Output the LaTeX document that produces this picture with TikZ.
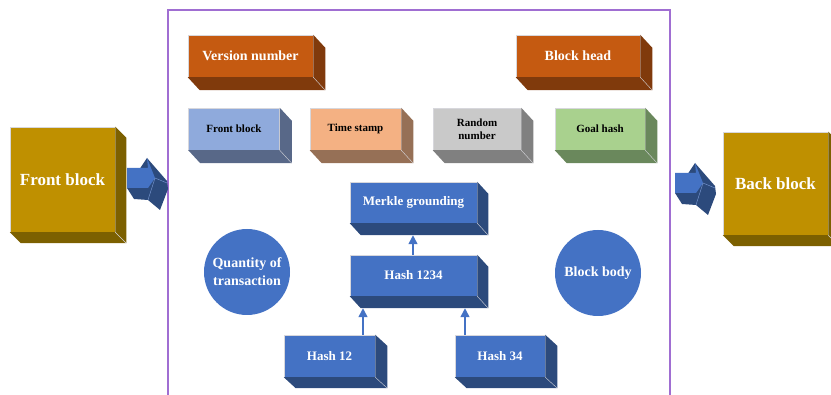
\documentclass[tikz,border=0pt]{standalone}
\usepackage{fontspec}
\setmainfont{Liberation Serif}
\usetikzlibrary{arrows.meta}

\definecolor{goldface}{RGB}{191,144,0}
\definecolor{goldside}{RGB}{124,96,0}
\definecolor{rustface}{RGB}{197,90,17}
\definecolor{rustside}{RGB}{128,58,12}
\definecolor{blueface}{RGB}{68,114,196}
\definecolor{blueside}{RGB}{44,74,124}
\definecolor{skyface}{RGB}{143,170,220}
\definecolor{skyside}{RGB}{88,104,136}
\definecolor{peachface}{RGB}{244,177,131}
\definecolor{peachside}{RGB}{150,112,86}
\definecolor{greyface}{RGB}{201,201,201}
\definecolor{greyside}{RGB}{128,128,128}
\definecolor{greenface}{RGB}{169,209,142}
\definecolor{greenside}{RGB}{106,136,92}
\definecolor{edgegrey}{RGB}{215,215,220}
\definecolor{framepurple}{RGB}{160,110,210}

\tikzset{
  face/.style={draw=edgegrey, line width=0.5pt, inner sep=0pt, align=center,
               font=\bfseries},
  bigface/.style={face, fill=goldface, text=white,
                  font=\bfseries\fontsize{17}{19}\selectfont},
  headface/.style={face, fill=rustface, text=white,
                   minimum width=125pt, minimum height=42pt,
                   font=\bfseries\fontsize{14}{16}\selectfont},
  fieldface/.style={face, text=black, minimum width=91pt, minimum height=42pt,
                    font=\bfseries\fontsize{11}{13}\selectfont},
  hashface/.style={face, fill=blueface, text=white, minimum height=42pt,
                   font=\bfseries\fontsize{13}{15}\selectfont},
  disc/.style={circle, fill=blueface, text=white, minimum size=86pt,
               inner sep=0pt, align=center,
               font=\bfseries\fontsize{14}{18}\selectfont},
  uparrow/.style={draw=blueface, line width=1.5pt,
                  -{Triangle[width=9pt,length=9pt]}},
}

% side and bottom faces of an extruded box: node, offset, colour
\newcommand\boxdepth[3]{%
  \fill[#3] (#1.north east) -- ([shift={(#2)}]#1.north east)
    -- ([shift={(#2)}]#1.south east) -- ([shift={(#2)}]#1.south west)
    -- (#1.south west) -- (#1.south east) -- cycle;
  \draw[edgegrey, line width=0.4pt] (#1.south east) -- ([shift={(#2)}]#1.south east);
}

% a solid block arrow pointing right, placed by an offset
\newcommand\solidarrow[1]{%
  \begin{scope}[shift={(#1)}]
    \fill[blueside] (147,158) -- (167,181) -- (168,189) -- (160,210)
      -- (148,200) -- (134,199) -- (127,188) -- cycle;
    \fill[blueface] (127,168) -- (148,168) -- (147,158) -- (155,178)
      -- (148,188) -- (127,188) -- cycle;
    \draw[blueface!70!white, line width=0.4pt] (155,178) -- (148,200)
      (155,178) -- (167,183);
  \end{scope}}

\begin{document}
\begin{tikzpicture}[x=1pt, y=-1pt]
  \useasboundingbox (0,0) rectangle (831,395);
  \clip (0,0) rectangle (831,395);

  % block frame
  \draw[framepurple, line width=1.2pt] (168,400) -- (168,10) -- (670,10) -- (670,400);

  % neighbouring blocks
  \node[bigface, minimum width=105pt, minimum height=105pt] (front) at (62.5,179.5) {Front block};
  \boxdepth{front}{11,11}{goldside}
  \node[bigface, minimum width=105pt, minimum height=103pt] (back) at (775.5,183.5) {Back block};
  \boxdepth{back}{11,11}{goldside}

  % chain arrows
  \solidarrow{0,0}
  \solidarrow{548,5}

  % header
  \node[headface] (version) at (250.5,56) {Version number};
  \boxdepth{version}{12,13}{rustside}
  \node[headface, minimum width=124pt] (head) at (578,56) {Block head};
  \boxdepth{head}{12,13}{rustside}

  \node[fieldface, fill=skyface] (prev) at (234,129) {Front block};
  \boxdepth{prev}{12,13}{skyside}
  \node[fieldface, fill=peachface] (time) at (355.5,129) {Time stamp};
  \boxdepth{time}{12,13}{peachside}
  \node[fieldface, fill=greyface, minimum width=88pt] (nonce) at (477,129) {Random\\number};
  \boxdepth{nonce}{12,13}{greyside}
  \node[fieldface, fill=greenface, minimum width=90pt] (goal) at (600,129) {Goal hash};
  \boxdepth{goal}{12,13}{greenside}

  % merkle tree
  \node[hashface, minimum width=127pt, minimum height=41pt] (merkle) at (413.5,202.5) {Merkle grounding};
  \boxdepth{merkle}{11,12}{blueside}
  \node[hashface, minimum width=127pt, minimum height=41pt] (h1234) at (413.5,275.5) {Hash 1234};
  \boxdepth{h1234}{11,12}{blueside}
  \node[hashface, minimum width=91pt] (h12) at (329.5,356) {Hash 12};
  \boxdepth{h12}{12,11}{blueside}
  \node[hashface, minimum width=90pt] (h34) at (500,356) {Hash 34};
  \boxdepth{h34}{12,11}{blueside}

  \coordinate (colA) at (363,0);
  \coordinate (colB) at (465,0);
  \coordinate (colC) at (413,0);
  \draw[uparrow] (h12.north -| colA) -- ([yshift=-12pt]h1234.south -| colA);
  \draw[uparrow] (h34.north -| colB) -- ([yshift=-12pt]h1234.south -| colB);
  \draw[uparrow] (h1234.north -| colC) -- ([yshift=-12pt]merkle.south -| colC);

  % body summary
  \node[disc] (count) at (247,272) {Quantity of\\transaction};
  \node[disc] (body) at (598,273) {Block body};
\end{tikzpicture}
\end{document}
